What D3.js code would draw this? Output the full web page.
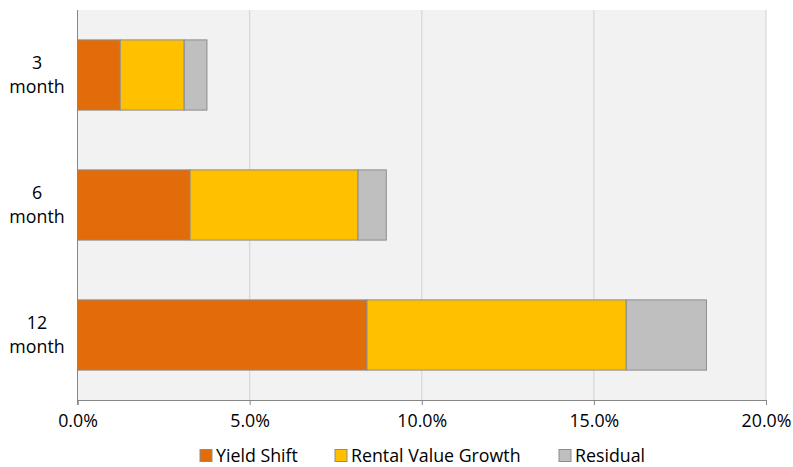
<!DOCTYPE html>
<html>
<head>
<meta charset="utf-8">
<script src="https://cdn.jsdelivr.net/npm/d3@7"></script>
<style>
  body { margin: 0; background: #fff; }
  text { font-family: "Open Sans", Lato, sans-serif; fill: #000; }
</style>
</head>
<body>
<svg id="chart" width="793" height="467"></svg>
<script>
// data (percent)
var categories = ["3 month", "6 month", "12 month"];
var seriesNames = ["Yield Shift", "Rental Value Growth", "Residual"];
var yieldShift = [1.24, 3.27, 8.41];
var rentalGrowth = [1.86, 4.88, 7.53];
var residual = [0.66, 0.82, 2.33];
var xTicks = [0, 5, 10, 15, 20];
var colors = ["#E36C0A", "#FFC000", "#BFBFBF"];

var svg = d3.select("#chart");
var margin = {top: 10, right: 27, bottom: 67, left: 77.5};
var width = 793 - margin.left - margin.right,
    height = 467 - margin.top - margin.bottom;
var fs = "17.8px";

var rows = categories.map(function(c, i) {
    return {cat: c, "Yield Shift": yieldShift[i], "Rental Value Growth": rentalGrowth[i], "Residual": residual[i]};
});
var stacked = d3.stack().keys(seriesNames)(rows);

var x = d3.scaleLinear().domain([0, 20]).range([0, width]);
var y = d3.scaleBand().domain(categories).range([0, height]).paddingInner(0.46).paddingOuter(0.23);

var g = svg.append("g").attr("transform", "translate(" + margin.left + "," + margin.top + ")");

g.append("rect")
    .attr("width", width).attr("height", height)
    .attr("fill", "#F2F2F2");

// gridlines
g.selectAll(".grid").data(xTicks.slice(1)).enter().append("line")
    .attr("x1", function(d) { return x(d); }).attr("x2", function(d) { return x(d); })
    .attr("y1", 0).attr("y2", height)
    .attr("stroke", "#D9D9D9").attr("stroke-width", 1.3);

// bars
g.selectAll(".series").data(stacked).enter().append("g")
    .attr("fill", function(d, i) { return colors[i]; })
    .selectAll("rect").data(function(d) { return d; }).enter().append("rect")
    .attr("x", function(d) { return x(d[0]); })
    .attr("width", function(d) { return x(d[1]) - x(d[0]); })
    .attr("y", function(d) { return y(d.data.cat); })
    .attr("height", y.bandwidth())
    .attr("stroke", "#8C8C8C").attr("stroke-width", 1);

// x axis
var xAxis = g.append("g").attr("transform", "translate(0," + height + ")")
    .call(d3.axisBottom(x).tickValues(xTicks).tickSize(5).tickPadding(9)
        .tickFormat(function(d) { return d.toFixed(1) + "%"; }));
xAxis.select(".domain").attr("stroke", "#868686");
xAxis.selectAll(".tick line").attr("stroke", "#868686");
xAxis.selectAll("text").style("font-size", fs).style("font-family", "'Open Sans', sans-serif").attr("fill", "#000");

// y axis line
g.append("line").attr("x1", 0).attr("x2", 0).attr("y1", 0).attr("y2", height + 5)
    .attr("stroke", "#868686");

// category labels (two lines)
categories.forEach(function(c) {
    var parts = c.split(" ");
    var t = svg.append("text")
        .attr("text-anchor", "middle")
        .attr("x", 37)
        .attr("y", margin.top + y(c) + y.bandwidth() / 2 - 6)
        .style("font-size", fs);
    t.append("tspan").attr("x", 37).attr("dy", 0).text(parts[0]);
    t.append("tspan").attr("x", 37).attr("dy", 24).text(parts[1]);
});

// legend
var legendX = [200, 335, 559];
var legend = svg.selectAll(".legend").data(seriesNames).enter().append("g")
    .attr("transform", function(d, i) { return "translate(" + legendX[i] + ",449.5)"; });
legend.append("rect").attr("width", 12).attr("height", 12)
    .attr("fill", function(d, i) { return colors[i]; })
    .attr("stroke", "#8C8C8C");
legend.append("text").attr("x", 16).attr("y", 12)
    .style("font-size", fs).text(function(d) { return d; });
</script>
</body>
</html>
